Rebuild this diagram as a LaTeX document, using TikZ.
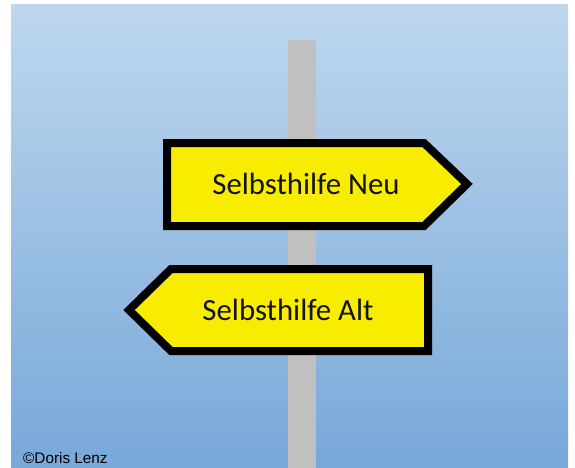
\documentclass[tikz,border=0pt]{standalone}
\usepackage{fontspec}
\setmainfont{Carlito}
\newfontfamily\creditfont{Liberation Sans}
\definecolor{skytop}{RGB}{190,215,238}
\definecolor{skymid}{RGB}{162,196,231}
\definecolor{skybot}{RGB}{119,168,216}
\definecolor{polegray}{RGB}{192,192,192}
\definecolor{signyellow}{RGB}{248,236,0}

\begin{document}
\begin{tikzpicture}[x=1pt, y=-1pt,
    sign/.style = {draw=black, line width=8pt, fill=signyellow, line join=miter},
    label/.style = {font=\fontsize{30.8}{36}\selectfont, text=black!92, inner sep=0pt}]
    \useasboundingbox (0,0) rectangle (575,468);
    \shade[top color=skytop, middle color=skymid, bottom color=skybot] (11,5) rectangle (568,468);
    \fill[polegray] (288,40) rectangle (316,468);
    \draw[sign] (167,143) -- (424,143) -- (467,184) -- (424,226) -- (167,226) -- cycle;
    \draw[sign] (428,269) -- (171,269) -- (129,310) -- (171,351) -- (428,351) -- cycle;
    \node[label] (neu) at (306,184) {Selbsthilfe Neu};
    \node[label] (alt) at (288,310) {Selbsthilfe Alt};
    \node[anchor=base west, inner sep=0pt, font=\creditfont\fontsize{15.3}{18}\selectfont] (credit) at (23,463) {©Doris Lenz};
\end{tikzpicture}
\end{document}
